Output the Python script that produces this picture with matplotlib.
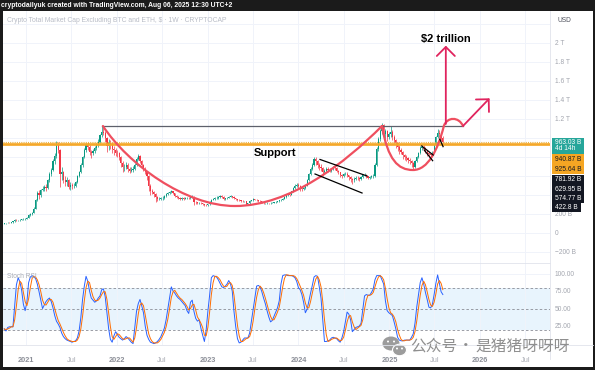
import matplotlib
matplotlib.use('Agg')
import matplotlib.pyplot as plt
import matplotlib.dates as mdates
import matplotlib.transforms as mtransforms
from matplotlib.patches import Rectangle, Ellipse, FancyArrowPatch, PathPatch
from matplotlib.path import Path
import numpy as np
import pandas as pd

plt.rcParams['font.family'] = ['Liberation Sans', 'DejaVu Sans']

W, H = 595, 370
UP = '#089981'
DOWN = '#f23645'
GRID = '#f0f3fa'
AXIS_TXT = '#a3a6af'
CUP = '#ef4f5f'
ARROW = '#e0245e'
ORANGE = '#f5a623'

# ---- weekly candles (billions USD), CRYPTOCAP TOTAL3 ----
start_week = '2020-10-05'
first_open = 100
closes = [105, 108, 112, 110,
          115, 125, 140, 135,
          138, 140, 145, 150, 155,
          165, 190, 200, 215,
          260, 350, 420, 400,
          455, 470, 490, 480, 560,
          620, 670, 760, 810,
          930, 880, 620, 640, 560,
          540, 560, 490, 510,
          495, 500, 540, 600,
          640, 720, 800, 880, 930,
          910, 860, 840, 870,
          900, 930, 960, 1030,
          1070, 1060, 1000, 920, 950,
          940, 890, 880, 850,
          840, 800, 740, 700, 700,
          720, 680, 660, 670,
          680, 720, 780, 810,
          760, 720, 680, 640, 600,
          500, 440, 430, 410,
          380, 360, 365, 370,
          375, 390, 410, 420, 430,
          440, 420, 395, 385,
          375, 365, 370, 365,
          370, 375, 370, 380, 385,
          330, 325, 320, 320,
          315, 305, 300, 298,
          305, 330, 350, 365, 370,
          375, 380, 395, 385,
          365, 370, 375, 385,
          390, 385, 370, 360, 350,
          345, 340, 335, 335,
          310, 315, 340, 345,
          360, 355, 345, 340, 335,
          330, 315, 315, 318,
          315, 320, 322, 325,
          330, 335, 345, 355, 360,
          380, 400, 410, 405,
          440, 480, 500, 510,
          500, 480, 470, 480, 500,
          560, 620, 680, 720,
          780, 760, 720, 700,
          690, 650, 660, 680, 670,
          660, 675, 690, 685,
          660, 640, 610, 600,
          620, 625, 610, 590, 570,
          560, 575, 585, 580,
          570, 590, 610, 615,
          600, 585, 590, 600, 605,
          720, 890, 990, 1080,
          1140, 1050, 1080, 1010,
          1040, 1070, 1010, 980, 950,
          910, 880, 860, 820,
          800, 790, 770, 760, 740,
          700, 760, 800, 840,
          900, 910, 890, 870,
          840, 830, 820, 850,
          930, 1010, 1060, 1040, 1000,
          963.03]

highs = [110, 113, 116, 118, 119, 130, 146, 147, 144, 146, 151, 158, 162, 172, 198, 212, 225,
         272, 365, 445, 460, 470, 495, 510, 515, 575, 640, 690, 780, 840, 975, 960, 890, 700,
         660, 600, 590, 575, 535, 530, 525, 555, 615, 660, 735, 815, 900, 950, 960, 930, 880,
         890, 920, 950, 990, 1050, 1130, 1125, 1080, 1010, 990, 980, 960, 920, 900, 880, 860,
         815, 760, 730, 750, 735, 700, 700, 710, 740, 800, 830, 820, 770, 730, 695, 655, 610,
         520, 470, 450, 420, 395, 380, 385, 390, 400, 420, 430, 445, 455, 448, 425, 402, 395,
         385, 380, 378, 380, 385, 382, 392, 398, 390, 340, 333, 330, 328, 320, 310, 306, 312,
         336, 356, 372, 380, 388, 392, 402, 400, 390, 376, 382, 392, 398, 396, 390, 375, 366,
         356, 350, 346, 342, 338, 322, 346, 352, 368, 366, 360, 350, 345, 340, 334, 322, 324,
         322, 326, 328, 331, 336, 342, 352, 362, 370, 388, 410, 420, 418, 448, 490, 520, 530,
         525, 510, 490, 492, 512, 570, 635, 695, 745, 805, 800, 775, 735, 725, 700, 680, 695,
         700, 685, 690, 705, 710, 695, 668, 648, 620, 635, 645, 640, 615, 600, 580, 590, 600,
         598, 590, 600, 622, 630, 625, 608, 602, 612, 620, 735, 905, 1010, 1100, 1165, 1150,
         1100, 1090, 1070, 1130, 1085, 1030, 995, 965, 925, 900, 870, 835, 820, 805, 790, 775,
         750, 770, 815, 860, 915, 935, 925, 905, 880, 855, 845, 865, 945, 1025, 1100, 1085,
         1055, 1020]

lows = [97, 101, 105, 106, 104, 112, 122, 128, 130, 132, 136, 140, 144, 150, 160, 182, 192,
        210, 255, 340, 360, 385, 440, 450, 440, 470, 545, 600, 655, 730, 790, 840, 490, 560,
        530, 500, 500, 470, 460, 470, 475, 490, 530, 590, 630, 700, 790, 860, 880, 820, 790,
        820, 850, 880, 910, 950, 1010, 1030, 960, 860, 880, 890, 850, 820, 810, 800, 770, 700,
        640, 660, 680, 650, 630, 640, 650, 670, 710, 770, 740, 700, 660, 620, 560, 450, 400,
        410, 380, 330, 340, 345, 350, 355, 365, 380, 400, 410, 420, 410, 385, 375, 365, 355,
        355, 355, 358, 362, 360, 365, 372, 300, 312, 310, 310, 305, 296, 292, 290, 292, 300,
        325, 345, 355, 362, 366, 372, 372, 345, 355, 362, 370, 378, 376, 362, 352, 342, 338,
        332, 328, 325, 300, 305, 310, 335, 340, 348, 338, 332, 328, 322, 308, 308, 310, 308,
        310, 314, 316, 320, 325, 330, 340, 350, 356, 375, 392, 395, 400, 435, 470, 490, 480,
        450, 445, 460, 470, 495, 555, 610, 670, 710, 720, 690, 670, 660, 600, 630, 645, 650,
        640, 645, 665, 670, 645, 625, 595, 580, 590, 610, 595, 560, 540, 520, 545, 565, 565,
        555, 560, 580, 600, 585, 570, 575, 580, 585, 595, 710, 870, 970, 1040, 1000, 960, 970,
        990, 1010, 980, 950, 900, 870, 830, 830, 780, 770, 765, 740, 730, 700, 665, 690, 750,
        790, 830, 880, 865, 850, 815, 805, 795, 810, 840, 920, 1000, 1010, 975, 950]

# ---- Stoch RSI (weekly) ----
stoch_k = [22, 19, 24, 25, 25, 25, 55, 85, 95, 89, 77, 57, 48, 60, 88, 96, 98, 96, 94, 86,
           75, 63, 51, 56, 61, 64, 66, 61, 52, 41, 33, 29, 24, 16, 11, 8, 6, 5, 4, 3, 4, 5,
           9, 19, 38, 64, 83, 97, 90, 76, 66, 63, 60, 62, 66, 69, 78, 79, 68, 45, 22, 7, 3,
           12, 18, 14, 10, 8, 6, 8, 11, 9, 6, 3, 1, 24, 47, 58, 64, 55, 45, 26, 13, 7, 3, 2,
           1, 2, 4, 7, 11, 17, 23, 35, 51, 68, 82, 76, 73, 69, 66, 64, 61, 58, 55, 48, 44,
           60, 63, 47, 37, 33, 35, 23, 13, 4, 20, 47, 70, 95, 98, 97, 96, 92, 87, 82, 81, 83,
           86, 91, 86, 76, 47, 25, 8, 2, 3, 6, 9, 9, 9, 16, 33, 51, 68, 83, 84, 82, 75, 66,
           58, 48, 39, 32, 34, 40, 46, 52, 62, 86, 98, 99, 99, 98, 98, 98, 97, 95, 90, 81,
           78, 71, 60, 45, 50, 61, 73, 84, 96, 98, 97, 82, 66, 35, 4, 4, 5, 6, 9, 10, 9, 8,
           5, 3, 9, 18, 32, 46, 43, 35, 18, 21, 24, 25, 26, 30, 50, 69, 71, 70, 70, 74, 79,
           92, 98, 98, 98, 92, 86, 62, 48, 45, 43, 41, 32, 22, 10, 6, 5, 5, 6, 6, 6, 6, 10,
           15, 30, 53, 70, 88, 95, 86, 74, 64, 53, 52, 57, 71, 87, 99, 87, 75, 71]

stoch_d = [22, 21, 22, 23, 25, 25, 35, 55, 78, 90, 87, 74, 61, 55, 65, 81, 94, 97, 96, 92,
           85, 75, 63, 57, 56, 60, 64, 64, 60, 51, 42, 34, 29, 23, 17, 12, 8, 6, 5, 4, 4, 4,
           6, 11, 22, 40, 62, 81, 90, 88, 77, 68, 63, 62, 63, 66, 71, 75, 75, 64, 45, 25, 11,
           7, 11, 15, 14, 11, 8, 7, 8, 9, 9, 6, 3, 9, 24, 43, 56, 59, 55, 42, 28, 15, 8, 4,
           2, 2, 2, 4, 7, 12, 17, 25, 36, 51, 67, 75, 77, 73, 69, 66, 64, 61, 58, 54, 49,
           51, 56, 57, 49, 39, 35, 30, 24, 13, 12, 24, 46, 71, 88, 97, 97, 95, 92, 87, 83, 82,
           83, 87, 88, 84, 70, 49, 27, 12, 4, 4, 6, 8, 9, 11, 19, 33, 51, 67, 78, 83, 80, 74,
           66, 57, 48, 40, 35, 35, 40, 46, 53, 67, 82, 94, 99, 99, 98, 98, 98, 97, 94, 89,
           83, 77, 70, 59, 52, 52, 61, 73, 84, 93, 97, 92, 82, 61, 35, 14, 4, 5, 7, 8, 9, 9,
           7, 5, 6, 10, 20, 32, 40, 41, 32, 25, 21, 23, 25, 27, 35, 50, 63, 70, 70, 71, 74,
           82, 90, 96, 98, 96, 92, 80, 65, 52, 45, 43, 39, 32, 21, 13, 7, 5, 5, 6, 6, 6, 7,
           10, 18, 33, 51, 70, 84, 90, 85, 75, 64, 56, 54, 60, 72, 86, 91, 87, 78]

# price levels drawn on the chart
last_price = 963.03
support_levels = [940.87, 925.64]
resistance_level = 1129
level_labels = ['963.03 B', '4d 14h', '940.87 B', '925.64 B',
                '781.92 B', '629.95 B', '574.77 B', '422.8 B']

price_grid = list(range(-200, 2401, 200))
price_labels_at = [2000, 1800, 1600, 1400, 1200, 200, 0, -200]
stoch_labels_at = [100, 75, 50, 25]
time_ticks = ['2021-01-01', '2021-07-01', '2022-01-01', '2022-07-01', '2023-01-01',
              '2023-07-01', '2024-01-01', '2024-07-01', '2025-01-01', '2025-07-01',
              '2026-01-01', '2026-07-01']
time_labels = ['2021', 'Jul', '2022', 'Jul', '2023', 'Jul', '2024', 'Jul', '2025', 'Jul',
               '2026', 'Jul']

# drawing anchors (date, value in B)
cup_big = [('2021-11-06', 1129), ('2022-02-15', 729), ('2022-10-02', 287), ('2023-04-21', 287),
           ('2023-11-28', 287), ('2024-07-07', 740), ('2024-12-02', 1129)]
cup_small = [('2024-12-02', 1129), ('2024-12-26', 772), ('2025-02-05', 666), ('2025-04-06', 666),
             ('2025-06-05', 666), ('2025-07-15', 877), ('2025-08-08', 1129),
             ('2025-08-21', 1229), ('2025-10-08', 1229), ('2025-10-24', 1129)]
resist_span = ('2021-11-02', '2025-10-24')
arrow_up = [('2025-08-16', 1151), ('2025-08-16', 1975)]
arrow_diag = [('2025-10-24', 1129), ('2026-02-08', 1421)]
channel_upper = [('2024-03-28', 777), ('2024-10-03', 603)]
channel_lower = [('2024-03-08', 624), ('2024-09-13', 424)]
flag_lines = [[('2025-05-11', 919), ('2025-06-26', 824)],
              [('2025-05-21', 877), ('2025-06-24', 764)],
              [('2025-07-23', 989), ('2025-08-05', 912)]]


def dn(s):
    return mdates.datestr2num(s)


def pts(seq):
    return [(dn(d), v) for d, v in seq]


fig = plt.figure(figsize=(W / 100, H / 100), dpi=100)
fig.patch.set_facecolor('#1b1b1b')
fig.add_artist(Rectangle((3 / W, 3 / H), 590 / W, 356.5 / H, transform=fig.transFigure,
                         facecolor='white', edgecolor='none', zorder=-2))

ax = fig.add_axes([3 / W, 1 - 263 / H, 547 / W, 252 / H])
ax2 = fig.add_axes([3 / W, 1 - 345 / H, 547 / W, 82 / H])
x0, x1 = dn('2020-09-30'), dn('2026-10-09')
for a in (ax, ax2):
    a.set_xlim(x0, x1)
    for s in a.spines.values():
        s.set_visible(False)
    a.set_xticks([dn(t) for t in time_ticks])
    a.grid(axis='x', color=GRID, lw=0.7)
    a.tick_params(length=0)
    a.set_yticks([])
ax.set_xticklabels([])
ax.set_ylim(-313, 2340)
ax2.set_ylim(-1, 116)
for v in price_grid:
    ax.axhline(v, color=GRID, lw=0.7, zorder=0)

# candles
dates = pd.date_range(start_week, periods=len(closes), freq='7D')
c = np.array(closes, dtype=float)
o = np.r_[first_open, c[:-1]]
hi = np.array(highs, dtype=float)
lo = np.array(lows, dtype=float)
col = np.where(c >= o, UP, DOWN)
ax.vlines(dates, lo, hi, colors=col, lw=0.5, zorder=2)
ax.bar(dates, np.abs(c - o), bottom=np.minimum(o, c), width=4.6, color=col, zorder=2)

# level lines
ax.axhline(last_price, color='#e8b34a', lw=0.8, ls=(0, (1, 1)), zorder=3)
for lv in support_levels:
    ax.axhline(lv, color=ORANGE, lw=1.2, zorder=3)
ax.plot([dn(resist_span[0]), dn(resist_span[1])], [resistance_level] * 2,
        color='#5d606b', lw=0.9, zorder=3)


def bezier(seq, color):
    p = pts(seq)
    codes = [Path.MOVETO] + [Path.CURVE4] * (len(p) - 1)
    ax.add_patch(PathPatch(Path(p, codes), fill=False, ec=color, lw=1.6, zorder=4,
                           capstyle='round'))


bezier(cup_big, CUP)
bezier(cup_small, CUP)

for seg in [channel_upper, channel_lower] + flag_lines:
    p = pts(seg)
    ax.plot([p[0][0], p[1][0]], [p[0][1], p[1][1]], color='black', lw=0.9, zorder=4)

for seg in (arrow_up, arrow_diag):
    p = pts(seg)
    ax.add_patch(FancyArrowPatch(p[0], p[1], arrowstyle='->,head_length=0.65,head_width=0.65',
                                 mutation_scale=10, color=ARROW, lw=1.3, shrinkA=0, shrinkB=0,
                                 zorder=5))

ax.text(dn('2025-08-16'), 2040, '$2 trillion', fontsize=8, fontweight='bold', ha='center',
        va='center', zorder=6)
ax.text(dn('2023-10-01'), 847, 'Support', fontsize=8, fontweight='bold', ha='center',
        va='center', zorder=6)

# stoch rsi pane
ax2.axhspan(20, 80, color='#2196f3', alpha=0.1, lw=0)
for v in (80, 50, 20):
    ax2.axhline(v, color='#8a8d96', lw=0.6, ls=(0, (3, 2.5)))
ax2.axhline(100, color=GRID, lw=0.7)
ax2.plot(dates, stoch_k, color='#2962ff', lw=0.7, zorder=3)
ax2.plot(dates, stoch_d, color='#ff6d00', lw=0.7, zorder=3)
ax2.set_xticklabels(time_labels)
ax2.tick_params(axis='x', pad=9)
for t, lab in zip(ax2.get_xticklabels(), time_labels):
    t.set_fontsize(5.3)
    if lab.isdigit():
        t.set_fontweight('bold')
        t.set_color('#8c8f98')
    else:
        t.set_color('#a8abb3')
ax2.text(0.008, 97, 'Stoch RSI', transform=mtransforms.blended_transform_factory(ax2.transAxes, ax2.transData),
         fontsize=4.8, color='#a8abb3', va='center')

# price scale labels
bt = mtransforms.blended_transform_factory(fig.transFigure, ax.transData)
for v in price_labels_at:
    if v == 0:
        s = '0'
    elif abs(v) >= 1000:
        s = f'{v / 1000:g} T'
    else:
        s = f'{v} B'.replace('-', '\u2212')
    ax.text(555 / W, v, s, transform=bt, fontsize=4.8, color=AXIS_TXT, va='center',
            clip_on=False)
bt2 = mtransforms.blended_transform_factory(fig.transFigure, ax2.transData)
for v in stoch_labels_at:
    ax2.text(555 / W, v, f'{v:.2f}', transform=bt2, fontsize=4.8, color=AXIS_TXT,
             va='center', clip_on=False)

# overlay in pixel coordinates
ov = fig.add_axes([0, 0, 1, 1], zorder=10)
ov.set_xlim(0, W)
ov.set_ylim(H, 0)
ov.axis('off')
ov.patch.set_alpha(0)
ov.plot([550, 550], [10.5, 359], color='#e0e3eb', lw=0.6)
ov.plot([3, 593], [345, 345], color='#e0e3eb', lw=0.6)
ov.plot([3, 550], [263, 263], color='#e0e3eb', lw=0.6)

ov.text(1, 5.5, 'cryptodailyuk created with TradingView.com, Aug 06, 2025 12:30 UTC+2',
        color='white', fontsize=4.9, fontweight='bold', va='center')
ov.text(7, 20, 'Crypto Total Market Cap Excluding BTC and ETH, $ \u00b7 1W \u00b7 CRYPTOCAP',
        color='#b8bcc6', fontsize=4.9, va='center')
ov.text(557, 20, 'USD', color='#50535e', fontsize=4.8, va='center')

boxes = [(137.5, 153.6, 584, '#26a69a', 'white', [0, 1]),
         (154.3, 174.0, 584, ORANGE, '#131722', [2, 3]),
         (174.6, 203.4, 584, '#131722', 'white', [4, 5, 6]),
         (203.4, 212.0, 581, '#131722', 'white', [7])]
row_y = [142.3, 149.0, 159.3, 169.3, 179.3, 189.3, 198.3, 207.7]
for top, bot, right, fc, tc, idx in boxes:
    ov.add_patch(Rectangle((552, top), right - 552, bot - top, facecolor=fc, edgecolor='none'))
    for i in idx:
        ov.text(555, row_y[i], level_labels[i], color=tc, fontsize=4.8, va='center')

# watermark
ov.add_patch(Ellipse((391, 343.5), 17, 14, facecolor='#9c9c9c', edgecolor='none'))
ov.add_patch(Ellipse((399.5, 350), 14, 11.5, facecolor='#9c9c9c', edgecolor='white', lw=0.8))
for ex, ey in [(388, 341.5), (394, 341.5), (397, 348.5), (402, 348.5)]:
    ov.add_patch(Ellipse((ex, ey), 2, 2, facecolor='white', edgecolor='none'))
wm_font = ['Noto Sans CJK SC', 'DejaVu Sans']
ov.text(410, 346, '公众号', family=wm_font, fontsize=11.3, color='#8f8f8f', va='center')
ov.text(466, 346, '·', family=wm_font, fontsize=11.3, color='#8f8f8f', va='center', ha='center')
ov.text(476, 346, '是猪猪呀呀呀', family=wm_font, fontsize=11.3, color='#8f8f8f', va='center')

fig.savefig('out.png', dpi=100, facecolor=fig.get_facecolor())
